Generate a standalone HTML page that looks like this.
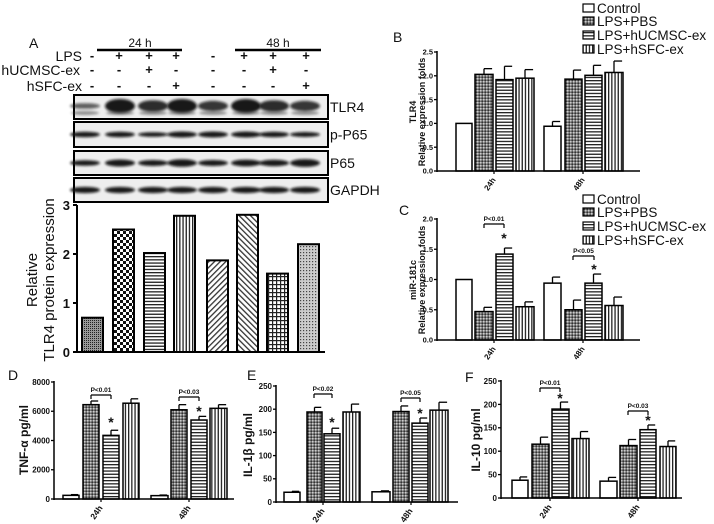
<!DOCTYPE html>
<html><head><meta charset="utf-8">
<style>
html,body{margin:0;padding:0;background:#fff;}
svg{display:block;font-family:"Liberation Sans",Arial,sans-serif;}
</style></head>
<body>
<svg id="s" width="714" height="524" viewBox="0 0 714 524" xmlns="http://www.w3.org/2000/svg">
<defs>
<pattern id="pbs" width="3" height="3" patternUnits="userSpaceOnUse"><rect width="3" height="3" fill="#777"/><rect width="1.5" height="1.5" fill="#ccc"/><rect x="1.5" y="1.5" width="1.5" height="1.5" fill="#333"/></pattern>
<pattern id="huc" width="4" height="3.2" patternUnits="userSpaceOnUse"><rect width="4" height="3.2" fill="#fff"/><rect width="4" height="1.3" fill="#222"/></pattern>
<pattern id="hsf" width="3.2" height="4" patternUnits="userSpaceOnUse"><rect width="3.2" height="4" fill="#fff"/><rect width="1.3" height="4" fill="#222"/></pattern>
<pattern id="a1" width="2" height="2" patternUnits="userSpaceOnUse"><rect width="2" height="2" fill="#999"/><rect width="1" height="1" fill="#222"/></pattern>
<pattern id="a2" width="6" height="6" patternUnits="userSpaceOnUse"><rect width="6" height="6" fill="#fff"/><rect width="3" height="3" fill="#111"/><rect x="3" y="3" width="3" height="3" fill="#111"/></pattern>
<pattern id="a5" width="4" height="4" patternUnits="userSpaceOnUse" patternTransform="rotate(45)"><rect width="4" height="4" fill="#fff"/><rect width="1.3" height="4" fill="#333"/></pattern>
<pattern id="a6" width="4" height="4" patternUnits="userSpaceOnUse" patternTransform="rotate(-45)"><rect width="4" height="4" fill="#fff"/><rect width="1.3" height="4" fill="#333"/></pattern>
<pattern id="a7" width="4" height="4" patternUnits="userSpaceOnUse"><rect width="4" height="4" fill="#fff"/><rect width="1.2" height="4" fill="#222"/><rect width="4" height="1.2" fill="#222"/></pattern>
<pattern id="a8" width="3" height="3" patternUnits="userSpaceOnUse"><rect width="3" height="3" fill="#ccc"/><rect width="1.2" height="1.2" fill="#444"/></pattern>
<filter id="bl" x="-20%" y="-50%" width="140%" height="200%"><feGaussianBlur stdDeviation="1.4"/></filter>
</defs>
<g id="g"></g>
</svg>
<script>
var g=document.getElementById('g'),NS='http://www.w3.org/2000/svg';
function el(t,a,txt){var e=document.createElementNS(NS,t);for(var k in a)e.setAttribute(k,a[k]);if(txt!==undefined)e.textContent=txt;g.appendChild(e);return e;}
function line(x1,y1,x2,y2,w){el('line',{x1:x1,y1:y1,x2:x2,y2:y2,stroke:'#000','stroke-width':w||1.5});}
function text(x,y,s,sz,anc,bold,rot){var a={x:x,y:y,'font-size':sz,'text-anchor':anc||'start',fill:'#111'};if(bold)a['font-weight']='bold';if(rot)a.transform='rotate('+rot+' '+x+' '+y+')';return el('text',a,s);}
var P=['#fff','url(#pbs)','url(#huc)','url(#hsf)'];
text(29,48,'A',14);
line(97,50,182,50,2.5);line(235,50,321,50,2.5);
text(140,47,'24 h',12,'middle');text(278,47,'48 h',12,'middle');
text(82,61,'LPS',14,'end');text(80,75,'hUCMSC-ex',14,'end');text(82,91,'hSFC-ex',14,'end');
var cx=[92,119,149,176,213,244,273,306];
var r1='-+++-+++',r2='--+---+-',r3='---+---+';
[r1,r2,r3].forEach(function(r,i){for(var j=0;j<8;j++)text(cx[j],[61,75,91][i]-1,r[j],13,'middle',true);});
var boxes=[[95,119,'TLR4'],[122,147,'p-P65'],[151,175,'P65'],[178,202,'GAPDH']];
var lane=[85,120,153,182,213,246,274,305];
var bw=[[0.3,1,0.8,1,0.7,1,0.8,0.7],[0.7,0.7,0.5,0.8,0.8,0.8,0.7,0.6],[0.7,1,0.8,1.1,0.8,0.95,0.9,1.15],[0.85,0.85,0.85,0.85,0.85,0.85,0.85,0.85]];
boxes.forEach(function(b,i){
 el('rect',{x:74,y:b[0],width:254,height:b[1]-b[0],fill:'#eee',stroke:'#000','stroke-width':2});
 var cy=(b[0]+b[1])/2;
 for(var j=0;j<8;j++){var k=bw[i][j];
  if(i==0){el('ellipse',{cx:lane[j],cy:cy-1,rx:15,ry:6*k+1,fill:'#111',opacity:0.5+0.45*k,filter:'url(#bl)'});
           el('ellipse',{cx:lane[j],cy:cy+6,rx:14,ry:2,fill:'#333',opacity:0.5,filter:'url(#bl)'});}
  else el('ellipse',{cx:lane[j],cy:cy,rx:15,ry:2.5*k+1,fill:'#111',opacity:0.95,filter:'url(#bl)'});}
 text(330,cy+5,b[2],14);
});
(function(){var x0=77,y0=352,s=49;
 var bars=[[82,0.7,'url(#a1)'],[113,2.5,'url(#a2)'],[144,2.02,'url(#huc)'],[174,2.78,'url(#hsf)'],[207,1.87,'url(#a5)'],[237,2.8,'url(#a6)'],[267,1.6,'url(#a7)'],[298,2.2,'url(#a8)']];
 bars.forEach(function(b){el('rect',{x:b[0],y:y0-b[1]*s,width:21,height:b[1]*s,fill:b[2],stroke:'#000','stroke-width':2});});
 line(x0,205,x0,y0+1,2);line(x0-1,y0,325,y0,2);
 for(var i=0;i<=3;i++){line(x0-4,y0-i*s,x0,y0-i*s,2);text(x0-7,y0-i*s+5,''+i,13,'end',true);}
 text(37,280,'Relative',15,'middle',false,-90);text(54,280,'TLR4 protein expression',15,'middle',false,-90);
})();
function chart(o){
 var s=(o.y0-o.ytop)/o.max, fs=o.fs||7.5;
 o.bars.forEach(function(b,i){var h=b[2]*s;var x=b[0],w=b[1]-b[0],top=o.y0-h;
  if(b[3]){var c=x+w/2;line(c,top,c,top-b[3]*s,1.3);line(c,top-b[3]*s,c+w*0.45,top-b[3]*s,1.3);}
  el('rect',{x:x,y:top,width:w,height:h,fill:P[i%4],stroke:'#000','stroke-width':1.5});});
 line(o.x0,o.ytop-1,o.x0,o.y0+1,1.5);line(o.x0,o.y0,o.xend,o.y0,1.5);
 o.ticks.forEach(function(t){var y=o.y0-t*s;line(o.x0-3,y,o.x0,y,1.3);text(o.x0-4,y+fs*0.36,o.fmt(t),fs,'end',true);});
 o.xl.forEach(function(p,i){line(p,o.y0,p,o.y0+3,1.2);text(p+2,o.y0+9,['24h','48h'][i],fs+0.5,'end',true,-55);});
 (o.sig||[]).forEach(function(q){var a=q[0],b=q[1],y=q[2];line(a,y+4,a,y,1.2);line(a,y,b,y,1.2);line(b,y,b,y+4,1.2);
  text((a+b)/2,y-3,q[3],6.5,'middle',true);text(b,q[4]+7,'*',14,'middle',true);});
}
function legend(x,ys){var L=['Control','LPS+PBS','LPS+hUCMSC-ex','LPS+hSFC-ex'];
 ys.forEach(function(y,i){el('rect',{x:x,y:y-4,width:11,height:8,fill:P[i],stroke:'#000','stroke-width':1.2});text(x+14,y+5,L[i],13.5);});}
text(393,42,'B',14);
chart({x0:437,ytop:52,y0:171,xend:640,max:2.5,ticks:[0,0.5,1,1.5,2,2.5],fmt:function(t){return t.toFixed(1);},
 bars:[[456,472,1.0,0],[475,493,2.03,0.12],[496,513,1.92,0.28],[516,534,1.95,0.18],[544,561,0.94,0.1],[565,582,1.93,0.19],[585,602,2.01,0.21],[605,623,2.07,0.24]],xl:[494,583]});
text(416,112,'TLR4',9,'middle',true,-90);text(425,112,'Relative expression folds',9,'middle',true,-90);
legend(583,[8,21,35,49]);
text(399,215,'C',14);
chart({x0:437,ytop:219,y0:340,xend:640,max:2.0,ticks:[0,0.5,1,1.5,2],fmt:function(t){return t.toFixed(1);},
 bars:[[456,472,1.0,0],[475,493,0.47,0.07],[496,513,1.42,0.1],[516,534,0.55,0.08],[544,561,0.94,0.1],[565,582,0.5,0.16],[585,602,0.94,0.15],[605,623,0.57,0.14]],xl:[494,583],
 sig:[[484,504,224,'P<0.01',236],[573,594,256,'P<0.05',267]]});
text(416,280,'miR-181c',9,'middle',true,-90);text(425,280,'Relative expression folds',9,'middle',true,-90);
legend(583,[199,212,226,240]);
text(8,380,'D',14);
chart({x0:54,ytop:382,y0:499,xend:234,max:8000,fs:8,ticks:[0,2000,4000,6000,8000],fmt:function(t){return ''+t;},
 bars:[[63,79,250,50],[83,99,6450,250],[103,119,4350,350],[123,139,6550,300],[151,168,230,40],[171,187,6100,350],[191,207,5400,250],[210,227,6200,250]],xl:[101,189],
 sig:[[91,111,395,'P<0.01',420],[179,199,397,'P<0.03',409]]});
text(28,440,'TNF-α pg/ml',12,'middle',true,-90);
text(247,380,'E',14);
chart({x0:276,ytop:386,y0:502,xend:458,max:250,fs:8,ticks:[0,50,100,150,200,250],fmt:function(t){return ''+t;},
 bars:[[284,300,21,2],[307,322,194,10],[324,340,147,12],[343,360,194,17],[372,390,22,2],[393,409,195,12],[412,428,170,11],[430,448,198,17]],xl:[323,411],
 sig:[[314,332,394,'P<0.02',420],[401,420,398,'P<0.05',411]]});
text(252,445,'IL-1β pg/ml',12,'middle',true,-90);
text(465,382,'F',14);
chart({x0:501,ytop:381,y0:498,xend:682,max:250,fs:8,ticks:[0,50,100,150,200,250],fmt:function(t){return ''+t;},
 bars:[[512,528,38,7],[532,549,115,15],[552,569,190,15],[572,589,127,15],[600,617,36,8],[620,637,112,13],[640,656,146,10],[660,676,110,12]],xl:[550,638],
 sig:[[540,560,388,'P<0.01',396],[628,648,411,'P<0.03',418]]});
text(480,440,'IL-10 pg/ml',12,'middle',true,-90);
</script>
</body></html>
